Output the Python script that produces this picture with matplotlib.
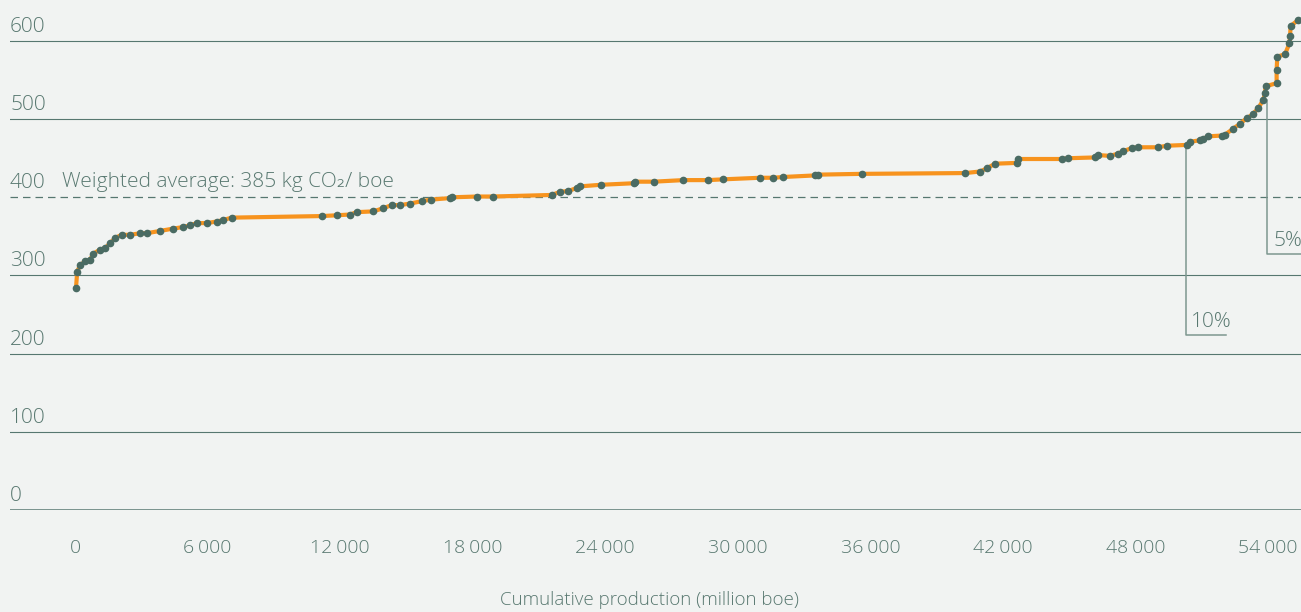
"""Emissions-intensity supply curve: cumulative production vs kg CO2 per boe."""

import matplotlib
matplotlib.use("Agg")
import matplotlib.pyplot as plt

# cumulative production (million boe) and intensity (kg CO2 / boe) of each field
cum_prod = [
    45, 100, 226, 453, 680, 830, 1130, 1360, 1585, 1810, 2110, 2490, 2940,
    3240, 3850, 4450, 4900, 5200, 5510, 5960, 6410, 6710, 7090,
    11170, 11845, 12450, 12750, 13500, 13950, 14330, 14710, 15160, 15690,
    16100, 16970, 17050, 18180, 18900,
    21580, 21950, 22330, 22710, 22860, 23790, 25300, 25350, 26200, 27530,
    28660, 29350, 31010, 31600, 32060, 33500, 33650, 35610,
    40290, 40960, 41270, 41640, 42620, 42700, 44660, 44960, 46170, 46320,
    46850, 47220, 47450, 47830, 48130, 49030, 49410, 50320, 50470, 50920,
    51070, 51300, 51900, 52050, 52430, 52730, 53030, 53300, 53560, 53790,
    53860, 53890, 54390, 54390, 54420, 54770, 54970, 55000, 55020, 55370,
]
intensity = [
    284, 305, 313, 318, 320, 328, 333, 335, 341, 348, 352, 352, 354,
    354, 357, 360, 362, 364, 367, 367, 369, 371, 374,
    376, 377, 378, 381, 382, 386, 390, 390, 392, 395,
    397, 399, 400, 401, 401,
    403, 407, 408, 412, 414, 416, 418, 420, 420, 422,
    422, 423, 425, 425, 426, 428, 429, 430,
    431, 433, 437, 443, 444, 449, 449, 450, 451, 454,
    453, 456, 459, 463, 464, 464, 466, 467, 471, 473,
    475, 478, 479, 480, 488, 494, 501, 506, 514, 525,
    533, 542, 546, 563, 580, 583, 597, 606, 619, 627,
]

y_grid = [0, 100, 200, 300, 400, 500, 600]
x_ticks = [0, 6000, 12000, 18000, 24000, 30000, 36000, 42000, 48000, 54000]
x_tick_labels = ["0", "6\u2009000", "12\u2009000", "18\u2009000", "24\u2009000",
                 "30\u2009000", "36\u2009000", "42\u2009000", "48\u2009000",
                 "54\u2009000"]
avg_line = 400
avg_label = "Weighted average: 385 kg CO\u2082/ boe"

# percentile markers: x, top (on curve), bottom, end of foot, label
pct_x = [50300, 53950]
pct_top = [465, 524]
pct_bottom = [224.5, 327.5]
pct_foot_end = [52100, 55500]
pct_labels = ["10%", "5%"]
pct_label_dx = [200, 290]

BG = "#f1f3f2"
GRID = "#567770"
TEXT = "#587870"
DOT = "#4a6b63"
ORANGE = "#f7931e"
ANNOT = "#7d978f"

FONT = ["Open Sans", "DejaVu Sans"]

fig = plt.figure(figsize=(13.01, 6.12), dpi=100, facecolor=BG)
ax = fig.add_axes([10 / 1301, 102 / 612, 1291 / 1301, 510 / 612])
ax.set_facecolor(BG)
ax.set_xlim(-2942, 55493)
ax.set_ylim(0, 652.4)
for s in ax.spines.values():
    s.set_visible(False)

for v in y_grid:
    if v == avg_line:
        ax.axhline(v, color=GRID, lw=0.9, ls=(0, (6, 4)), zorder=1)
    else:
        ax.axhline(v, color=GRID, lw=1.8 if v == 0 else 0.8, zorder=1)
    ax.text(-2942, v + 11.5, str(v), color=TEXT, fontsize=15, family=FONT,
            fontweight="light", va="baseline", ha="left")

ax.text(-600, avg_line + 13, avg_label, color=TEXT, fontsize=15, family=FONT,
        fontweight="light", va="baseline", ha="left")

for x, top, bot, end, lab, dx in zip(pct_x, pct_top, pct_bottom,
                                     pct_foot_end, pct_labels, pct_label_dx):
    ax.plot([x, x, end], [top, bot, bot], color=ANNOT, lw=1.1, zorder=2)
    ax.text(x + dx, bot + 10, lab, color=TEXT, fontsize=15, family=FONT,
            fontweight="light", va="baseline", ha="left")

ax.plot(cum_prod, intensity, color=ORANGE, lw=3, zorder=3,
        solid_capstyle="butt")
ax.plot(cum_prod, intensity, ls="none", marker="o", ms=4.5,
        color=DOT, zorder=4)

ax.set_yticks([])
ax.set_xticks(x_ticks)
ax.set_xticklabels(x_tick_labels, color=TEXT, fontsize=14, family=FONT,
                   fontweight="light")
ax.tick_params(axis="x", length=0, pad=21)

fig.text(650 / 1301, 12 / 612, "Cumulative production (million boe)",
         color=TEXT, fontsize=13.5, family=FONT, fontweight="light",
         ha="center", va="center")

fig.savefig("out.png", dpi=100, facecolor=BG)
